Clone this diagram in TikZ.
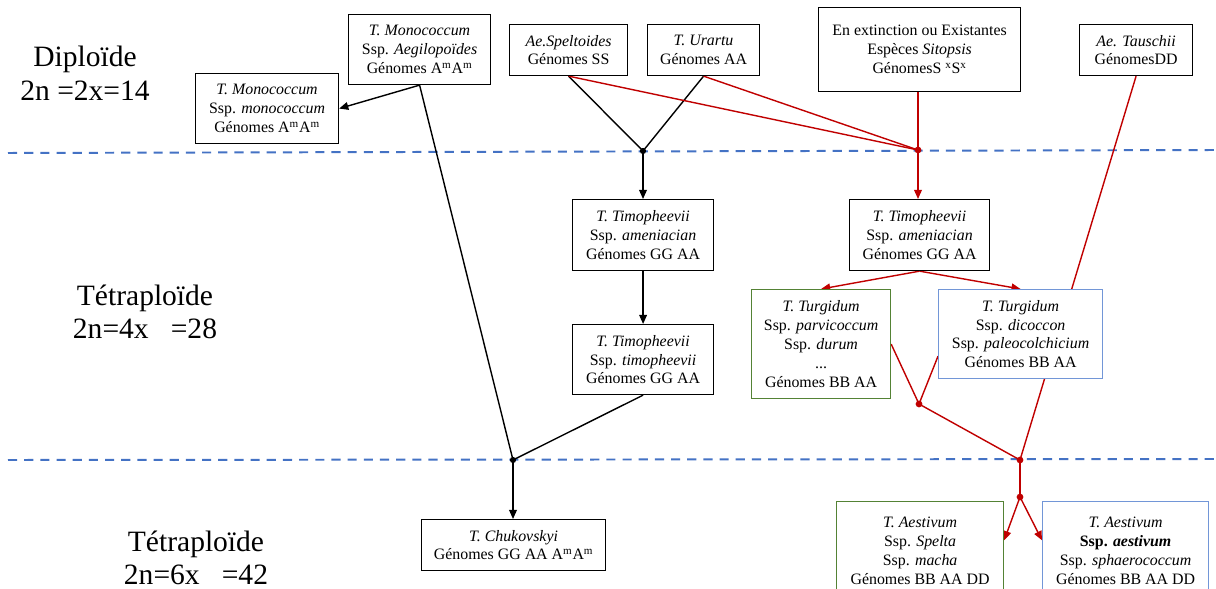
\documentclass[tikz,border=0pt]{standalone}
\usepackage{fontspec}
\setmainfont{Liberation Serif}
\usepackage{xcolor}
\usetikzlibrary{positioning}
\usetikzlibrary{arrows.meta}
\usetikzlibrary{backgrounds}
\definecolor{redline}{RGB}{192,0,0}
\definecolor{bluedash}{RGB}{68,114,196}
\definecolor{greenbox}{RGB}{84,130,53}
\definecolor{bluebox}{RGB}{114,150,215}

\begin{document}
\begin{tikzpicture}[x=0.025cm,y=-0.025cm,
  box/.style={draw=black, fill=white, line width=0.8pt, align=center, anchor=north west,
    inner sep=0pt, font=\fontsize{11.3}{13.5}\selectfont},
  gbox/.style={box, draw=greenbox},
  bbox/.style={box, draw=bluebox},
  lvl/.style={align=center, font=\fontsize{21}{24}\selectfont},
  blk/.style={black, line width=1pt},
  redl/.style={redline, line width=1pt},
  arr/.style={-{Triangle[length=6.5pt,width=5.5pt]}},
  sepline/.style={bluedash, line width=1.4pt, dash pattern=on 6.5pt off 5pt}]

\useasboundingbox (0,0) rectangle (1216,589);

%levels
\node[lvl] (dip) at (85,73) {Diploïde\\2n =2x=14};
\node[lvl] (tetra) at (145,312) {Tétraploïde\\2n=4x\ \ \ =28};
\node[lvl] (hexa) at (196,558) {Tétraploïde\\2n=6x\ \ \ =42};

%diploid boxes
\node[box, minimum width=3.55cm, minimum height=1.75cm] (aegil) at (348,14)
{\textit{T. Monococcum}\\Ssp. \textit{Aegilopoïdes}\\Génomes A\textsuperscript{m}A\textsuperscript{m}};
\node[box, minimum width=3.575cm, minimum height=1.75cm] (mono) at (195,73)
{\textit{T. Monococcum}\\Ssp. \textit{monococcum}\\Génomes A\textsuperscript{m}A\textsuperscript{m}};
\node[box, minimum width=2.95cm, minimum height=1.275cm] (spelt) at (509,24)
{\textit{Ae.Speltoides}\\Génomes SS};
\node[box, minimum width=2.8cm, minimum height=1.275cm] (urartu) at (647,24)
{\textit{T. Urartu}\\Génomes AA};
\node[box, minimum width=5.05cm, minimum height=2.1cm] (extinct) at (818,7)
{En extinction ou Existantes\\Espèces \textit{Sitopsis}\\GénomesS \textsuperscript{x}S\textsuperscript{x}};
\node[box, minimum width=2.825cm, minimum height=1.275cm] (tausch) at (1079,24)
{\textit{Ae. Tauschii}\\GénomesDD};

%tetraploid boxes
\node[box, minimum width=3.525cm, minimum height=1.775cm] (timA) at (572,199)
{\textit{T. Timopheevii}\\Ssp. \textit{ameniacian}\\Génomes GG AA};
\node[box, minimum width=3.525cm, minimum height=1.75cm] (timT) at (572,324)
{\textit{T. Timopheevii}\\Ssp. \textit{timopheevii}\\Génomes GG AA};
\node[box, minimum width=3.5cm, minimum height=1.775cm] (timB) at (849,199)
{\textit{T. Timopheevii}\\Ssp. \textit{ameniacian}\\Génomes GG AA};
\node[gbox, minimum width=3.475cm, minimum height=2.725cm] (gturg) at (751,289)
{\textit{T. Turgidum}\\Ssp. \textit{parvicoccum}\\Ssp. \textit{durum}\\...\\Génomes BB AA};
\node[bbox, minimum width=4.1cm, minimum height=2.225cm] (bturg) at (938,289)
{\textit{T. Turgidum}\\Ssp. \textit{dicoccon}\\Ssp. \textit{paleocolchicium}\\Génomes BB AA};

%hexaploid boxes
\node[box, minimum width=4.6cm, minimum height=1.275cm] (chuk) at (421,519)
{\textit{T. Chukovskyi}\\Génomes GG AA A\textsuperscript{m}A\textsuperscript{m}};
\node[gbox, minimum width=4.175cm, minimum height=2.45cm] (gaest) at (836,501)
{\textit{T. Aestivum}\\Ssp. \textit{Spelta}\\Ssp. \textit{macha}\\Génomes BB AA DD};
\node[bbox, minimum width=4.15cm, minimum height=2.45cm] (baest) at (1042,501)
{\textit{T. Aestivum}\\\textbf{Ssp. \textit{aestivum}}\\Ssp. \textit{sphaerococcum}\\Génomes BB AA DD};

%junctions
\coordinate (J1) at (643,151);
\coordinate (J2) at (918,150);
\coordinate (J3) at (919,404);
\coordinate (J4) at (1020,460);
\coordinate (J5) at (1020,497);
\coordinate (J6) at (513,460);

\begin{scope}[on background layer]
\draw[sepline] (8,153) -- (1216,150);
\draw[sepline] (8,460) -- (1216,459);

%black lines
\draw[blk,arr] (aegil.south) -- (mono.east);
\draw[blk] (aegil.south) -- (J6);
\draw[blk] (spelt.south) -- (J1);
\draw[blk] (urartu.south) -- (J1);
\draw[blk,arr] (J1) -- (J1 |- timA.north);
\draw[blk,arr] (timA.south) -- (timT.north);
\draw[blk] (timT.south) -- (J6);
\draw[blk,arr] (J6) -- (J6 |- chuk.north);

%red lines
\draw[redl] (spelt.south) -- (J2);
\draw[redl] (urartu.south) -- (J2);
\draw[redl] (J2 |- extinct.south) -- (J2);
\draw[redl] (tausch.south) -- (J4);
\draw[redl,arr] (J2) -- (J2 |- timB.north);
\draw[redl,arr] (timB.south) -- (gturg.north);
\draw[redl,arr] (timB.south) -- (bturg.north);
\draw[redl] (gturg.east) -- (J3);
\draw[redl] (bturg.195) -- (J3);
\draw[redl] (J3) -- (J4);
\draw[redl] (J4) -- (J5);
\draw[redl,arr] (J5) -- (gaest.7);
\draw[redl,arr] (J5) -- (baest.173);

\fill[black] (J1) circle [radius=2.2pt];
\fill[black] (J6) circle [radius=2.2pt];
\foreach \j in {J2,J3,J4,J5}
  \fill[redline] (\j) circle [radius=2.4pt];
\end{scope}

\end{tikzpicture}
\end{document}
